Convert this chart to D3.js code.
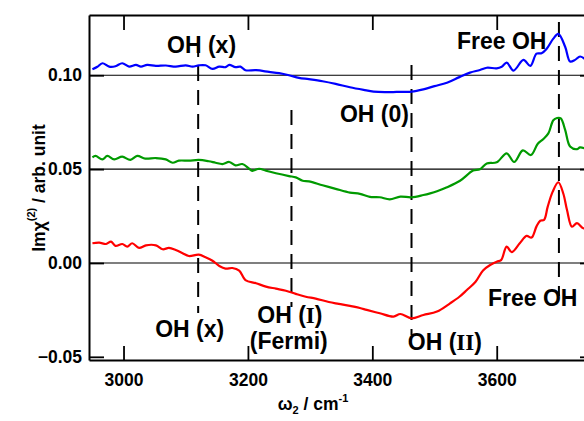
<!DOCTYPE html>
<html>
<head>
<meta charset="utf-8">
<script src="https://cdn.jsdelivr.net/npm/d3@7"></script>
<style>
    html, body { margin: 0; padding: 0; background: #fff; overflow: hidden; }
    svg { display: block; }
    .axis text { font-family: "Liberation Sans", Arial, sans-serif; font-weight: bold; font-size: 17.5px; fill: #000; }
    .axis path, .axis line { stroke: #000; }
    .axis path { stroke-width: 2; }
    .axis line { stroke-width: 1.8; }
    .note { font-family: "Liberation Sans", Arial, sans-serif; font-weight: bold; font-size: 23px; fill: #000; }
    .numeral { font-family: "Liberation Serif", serif; font-weight: bold; }
    .title { font-family: "Liberation Sans", Arial, sans-serif; font-weight: bold; font-size: 17.5px; fill: #000; }
</style>
</head>
<body>
<div id="chart-container"></div>
<script>
// Spectra (wavenumber / cm-1, Im chi(2) / arb. unit)
const blueX = [2950, 2958, 2966, 2977, 2987, 2998, 3009, 3020, 3028, 3038, 3052, 3068, 3084, 3100, 3111, 3121, 3132, 3143, 3154, 3164, 3170, 3180, 3188, 3196, 3213, 3234, 3250, 3266, 3282, 3298, 3320, 3341, 3364, 3386, 3402, 3420, 3439, 3463, 3482, 3500, 3520, 3540, 3557, 3573, 3584, 3600, 3608, 3616, 3627, 3643, 3654, 3664, 3672, 3680, 3691, 3699, 3710, 3718, 3726, 3734, 3742];
const blueY = [0.1032, 0.1045, 0.1064, 0.1046, 0.1048, 0.1064, 0.1046, 0.1055, 0.1046, 0.1055, 0.1050, 0.1052, 0.1046, 0.1053, 0.1046, 0.1053, 0.1053, 0.1034, 0.1046, 0.1043, 0.1055, 0.1043, 0.1046, 0.1027, 0.1027, 0.1018, 0.1011, 0.1000, 0.0986, 0.0979, 0.0968, 0.0954, 0.0936, 0.0922, 0.0913, 0.0910, 0.0911, 0.0913, 0.0925, 0.0942, 0.0960, 0.0990, 0.1014, 0.1028, 0.1040, 0.1037, 0.1045, 0.1067, 0.1025, 0.1082, 0.1050, 0.1115, 0.1117, 0.1140, 0.1195, 0.1220, 0.1152, 0.1073, 0.1082, 0.1100, 0.1085];

const greenX = [2950, 2955, 2966, 2974, 2985, 2998, 3011, 3022, 3035, 3052, 3068, 3079, 3089, 3105, 3121, 3137, 3148, 3159, 3170, 3180, 3191, 3202, 3207, 3218, 3229, 3245, 3266, 3277, 3288, 3298, 3320, 3341, 3364, 3380, 3396, 3412, 3428, 3445, 3463, 3482, 3493, 3504, 3520, 3541, 3562, 3573, 3584, 3600, 3616, 3628, 3642, 3655, 3666, 3675, 3683, 3691, 3697, 3703, 3710, 3718, 3729, 3734, 3742];
const greenY = [0.0563, 0.0570, 0.0552, 0.0570, 0.0552, 0.0566, 0.0549, 0.0570, 0.0556, 0.0559, 0.0552, 0.0534, 0.0545, 0.0545, 0.0549, 0.0542, 0.0534, 0.0527, 0.0538, 0.0520, 0.0527, 0.0502, 0.0491, 0.0502, 0.0491, 0.0478, 0.0463, 0.0456, 0.0438, 0.0435, 0.0414, 0.0395, 0.0375, 0.0368, 0.0352, 0.0350, 0.0339, 0.0353, 0.0350, 0.0362, 0.0371, 0.0382, 0.0403, 0.0438, 0.0492, 0.0499, 0.0530, 0.0536, 0.0584, 0.0538, 0.0600, 0.0575, 0.0635, 0.0660, 0.0690, 0.0760, 0.0772, 0.0770, 0.0709, 0.0620, 0.0606, 0.0616, 0.0610];

const redX = [2950, 2961, 2972, 2980, 2987, 2998, 3006, 3014, 3025, 3036, 3052, 3063, 3073, 3084, 3095, 3105, 3121, 3132, 3143, 3154, 3164, 3175, 3186, 3196, 3213, 3229, 3245, 3261, 3277, 3293, 3309, 3330, 3346, 3364, 3380, 3391, 3412, 3434, 3445, 3463, 3482, 3504, 3525, 3540, 3552, 3566, 3578, 3590, 3600, 3607, 3616, 3624, 3637, 3648, 3656, 3664, 3670, 3676, 3682, 3690, 3699, 3707, 3713, 3721, 3729, 3739, 3745];
const redY = [0.0105, 0.0108, 0.0101, 0.0114, 0.0091, 0.0101, 0.0087, 0.0105, 0.0080, 0.0094, 0.0094, 0.0073, 0.0080, 0.0069, 0.0052, 0.0037, 0.0044, 0.0030, 0.0012, -0.0016, -0.0030, -0.0027, -0.0041, -0.0091, -0.0108, -0.0126, -0.0137, -0.0148, -0.0165, -0.0180, -0.0190, -0.0208, -0.0218, -0.0229, -0.0240, -0.0250, -0.0268, -0.0286, -0.0272, -0.0295, -0.0277, -0.0259, -0.0215, -0.0180, -0.0144, -0.0100, -0.0040, -0.0010, 0.0007, 0.0015, 0.0087, 0.0058, 0.0105, 0.0144, 0.0135, 0.0195, 0.0225, 0.0229, 0.0300, 0.0380, 0.0430, 0.0370, 0.0282, 0.0193, 0.0212, 0.0185, 0.0190];

// Band positions marked with dashed lines, and the span of each line
const bandX = [3120, 3270, 3463, 3700];
const bandTop = [0.1177, 0.0815, 0.1055, 0.1284];
const bandBottom = [-0.0266, -0.0234, -0.0384, -0.0176];

// Band labels, anchored in data units
const noteText = ['OH (x)', 'Free OH', 'OH (0)', 'OH (x)', 'OH (\u2160)', '(Fermi)', 'OH (\u2161)', 'Free OH'];
const noteX = [3070, 3536, 3348, 3051, 3215, 3203, 3457, 3586];
const noteY = [0.1119, 0.1140, 0.0751, -0.0395, -0.0320, -0.0458, -0.0464, -0.0229];

// Ticks and baselines
const xTicks = [3000, 3200, 3400, 3600];
const yTicks = [-0.05, 0.00, 0.05, 0.10];
const baselines = [0.10, 0.05, 0.00];

const series = [
    { xs: blueX, ys: blueY, color: '#0000ff' },
    { xs: greenX, ys: greenY, color: '#009a00' },
    { xs: redX, ys: redY, color: '#ff0000' }
];

// Set up the dimensions
const width = 584;
const height = 421;
const plot = { left: 89, right: 595, top: 15, bottom: 360 };

const svg = d3.select('#chart-container')
    .append('svg')
    .attr('width', width)
    .attr('height', height);

// Create scales
const xScale = d3.scaleLinear()
    .domain([2944.5, 3758])
    .range([plot.left, plot.right]);

const yScale = d3.scaleLinear()
    .domain([0.1321, -0.0517])
    .range([plot.top, plot.bottom]);

// Baselines for each trace
svg.append('g')
    .selectAll('line')
    .data(baselines)
    .enter()
    .append('line')
    .attr('x1', plot.left)
    .attr('x2', plot.right)
    .attr('y1', d => yScale(d))
    .attr('y2', d => yScale(d))
    .attr('stroke', '#000')
    .attr('stroke-width', 1.1);

// Dashed band markers
svg.append('g')
    .selectAll('line')
    .data(bandX)
    .enter()
    .append('line')
    .attr('x1', d => xScale(d))
    .attr('x2', d => xScale(d))
    .attr('y1', (d, i) => yScale(bandTop[i]))
    .attr('y2', (d, i) => yScale(bandBottom[i]))
    .attr('stroke', '#000')
    .attr('stroke-width', 2)
    .attr('stroke-dasharray', '15,9');

// Spectra
const line = d3.line()
    .x(d => xScale(d[0]))
    .y(d => yScale(d[1]))
    .curve(d3.curveCatmullRom.alpha(0.5));

svg.append('g')
    .selectAll('path')
    .data(series)
    .enter()
    .append('path')
    .attr('d', s => line(s.xs.map((x, i) => [x, s.ys[i]])))
    .attr('fill', 'none')
    .attr('stroke', s => s.color)
    .attr('stroke-width', 2.2)
    .attr('stroke-linejoin', 'round');

// Axes (ticks point inward)
svg.append('g')
    .attr('class', 'axis')
    .attr('transform', `translate(0,${plot.bottom})`)
    .call(d3.axisBottom(xScale).tickValues(xTicks).tickSizeInner(-14).tickSizeOuter(0).tickPadding(14).tickFormat(d3.format('d')));

svg.append('g')
    .attr('class', 'axis')
    .attr('transform', `translate(0,${plot.top})`)
    .call(d3.axisTop(xScale).tickValues(xTicks).tickSizeInner(-15).tickSizeOuter(0).tickFormat(''));

svg.append('g')
    .attr('class', 'axis')
    .attr('transform', `translate(${plot.left},0)`)
    .call(d3.axisLeft(yScale).tickValues(yTicks).tickSizeInner(-15).tickSizeOuter(0).tickPadding(7).tickFormat(d3.format('.2f')));

svg.append('g')
    .attr('class', 'axis')
    .attr('transform', `translate(${plot.right},0)`)
    .call(d3.axisRight(yScale).tickValues(yTicks).tickSizeInner(-15).tickSizeOuter(0).tickFormat(''));

// Band labels (Roman numerals drawn in a serif face)
const romans = { '\u2160': 'I', '\u2161': 'II' };
svg.append('g')
    .selectAll('text')
    .data(noteText)
    .enter()
    .append('text')
    .attr('class', 'note')
    .attr('x', (d, i) => xScale(noteX[i]))
    .attr('y', (d, i) => yScale(noteY[i]))
    .each(function (d) {
        const t = d3.select(this);
        d.split(/([\u2160\u2161])/).filter(p => p).forEach(p => {
            if (romans[p]) t.append('tspan').attr('class', 'numeral').text(romans[p]);
            else t.append('tspan').text(p);
        });
    });

// Axis titles
const xTitle = svg.append('text')
    .attr('class', 'title')
    .attr('x', 313)
    .attr('y', 410)
    .attr('text-anchor', 'middle');
xTitle.append('tspan').text('\u03c9');
xTitle.append('tspan').attr('font-size', 11).attr('dy', 4).text('2');
xTitle.append('tspan').attr('dy', -4).text(' / cm');
xTitle.append('tspan').attr('font-size', 11).attr('dy', -8).text('-1');

const yTitle = svg.append('text')
    .attr('class', 'title')
    .attr('transform', 'translate(45,188) rotate(-90)')
    .attr('text-anchor', 'middle')
    .attr('font-size', 18.5);
yTitle.append('tspan').text('Im\u03c7');
yTitle.append('tspan').attr('font-size', 11).attr('dy', -10).text('(2)');
yTitle.append('tspan').attr('dy', 10).text(' / arb. unit');
</script>
</body>
</html>
